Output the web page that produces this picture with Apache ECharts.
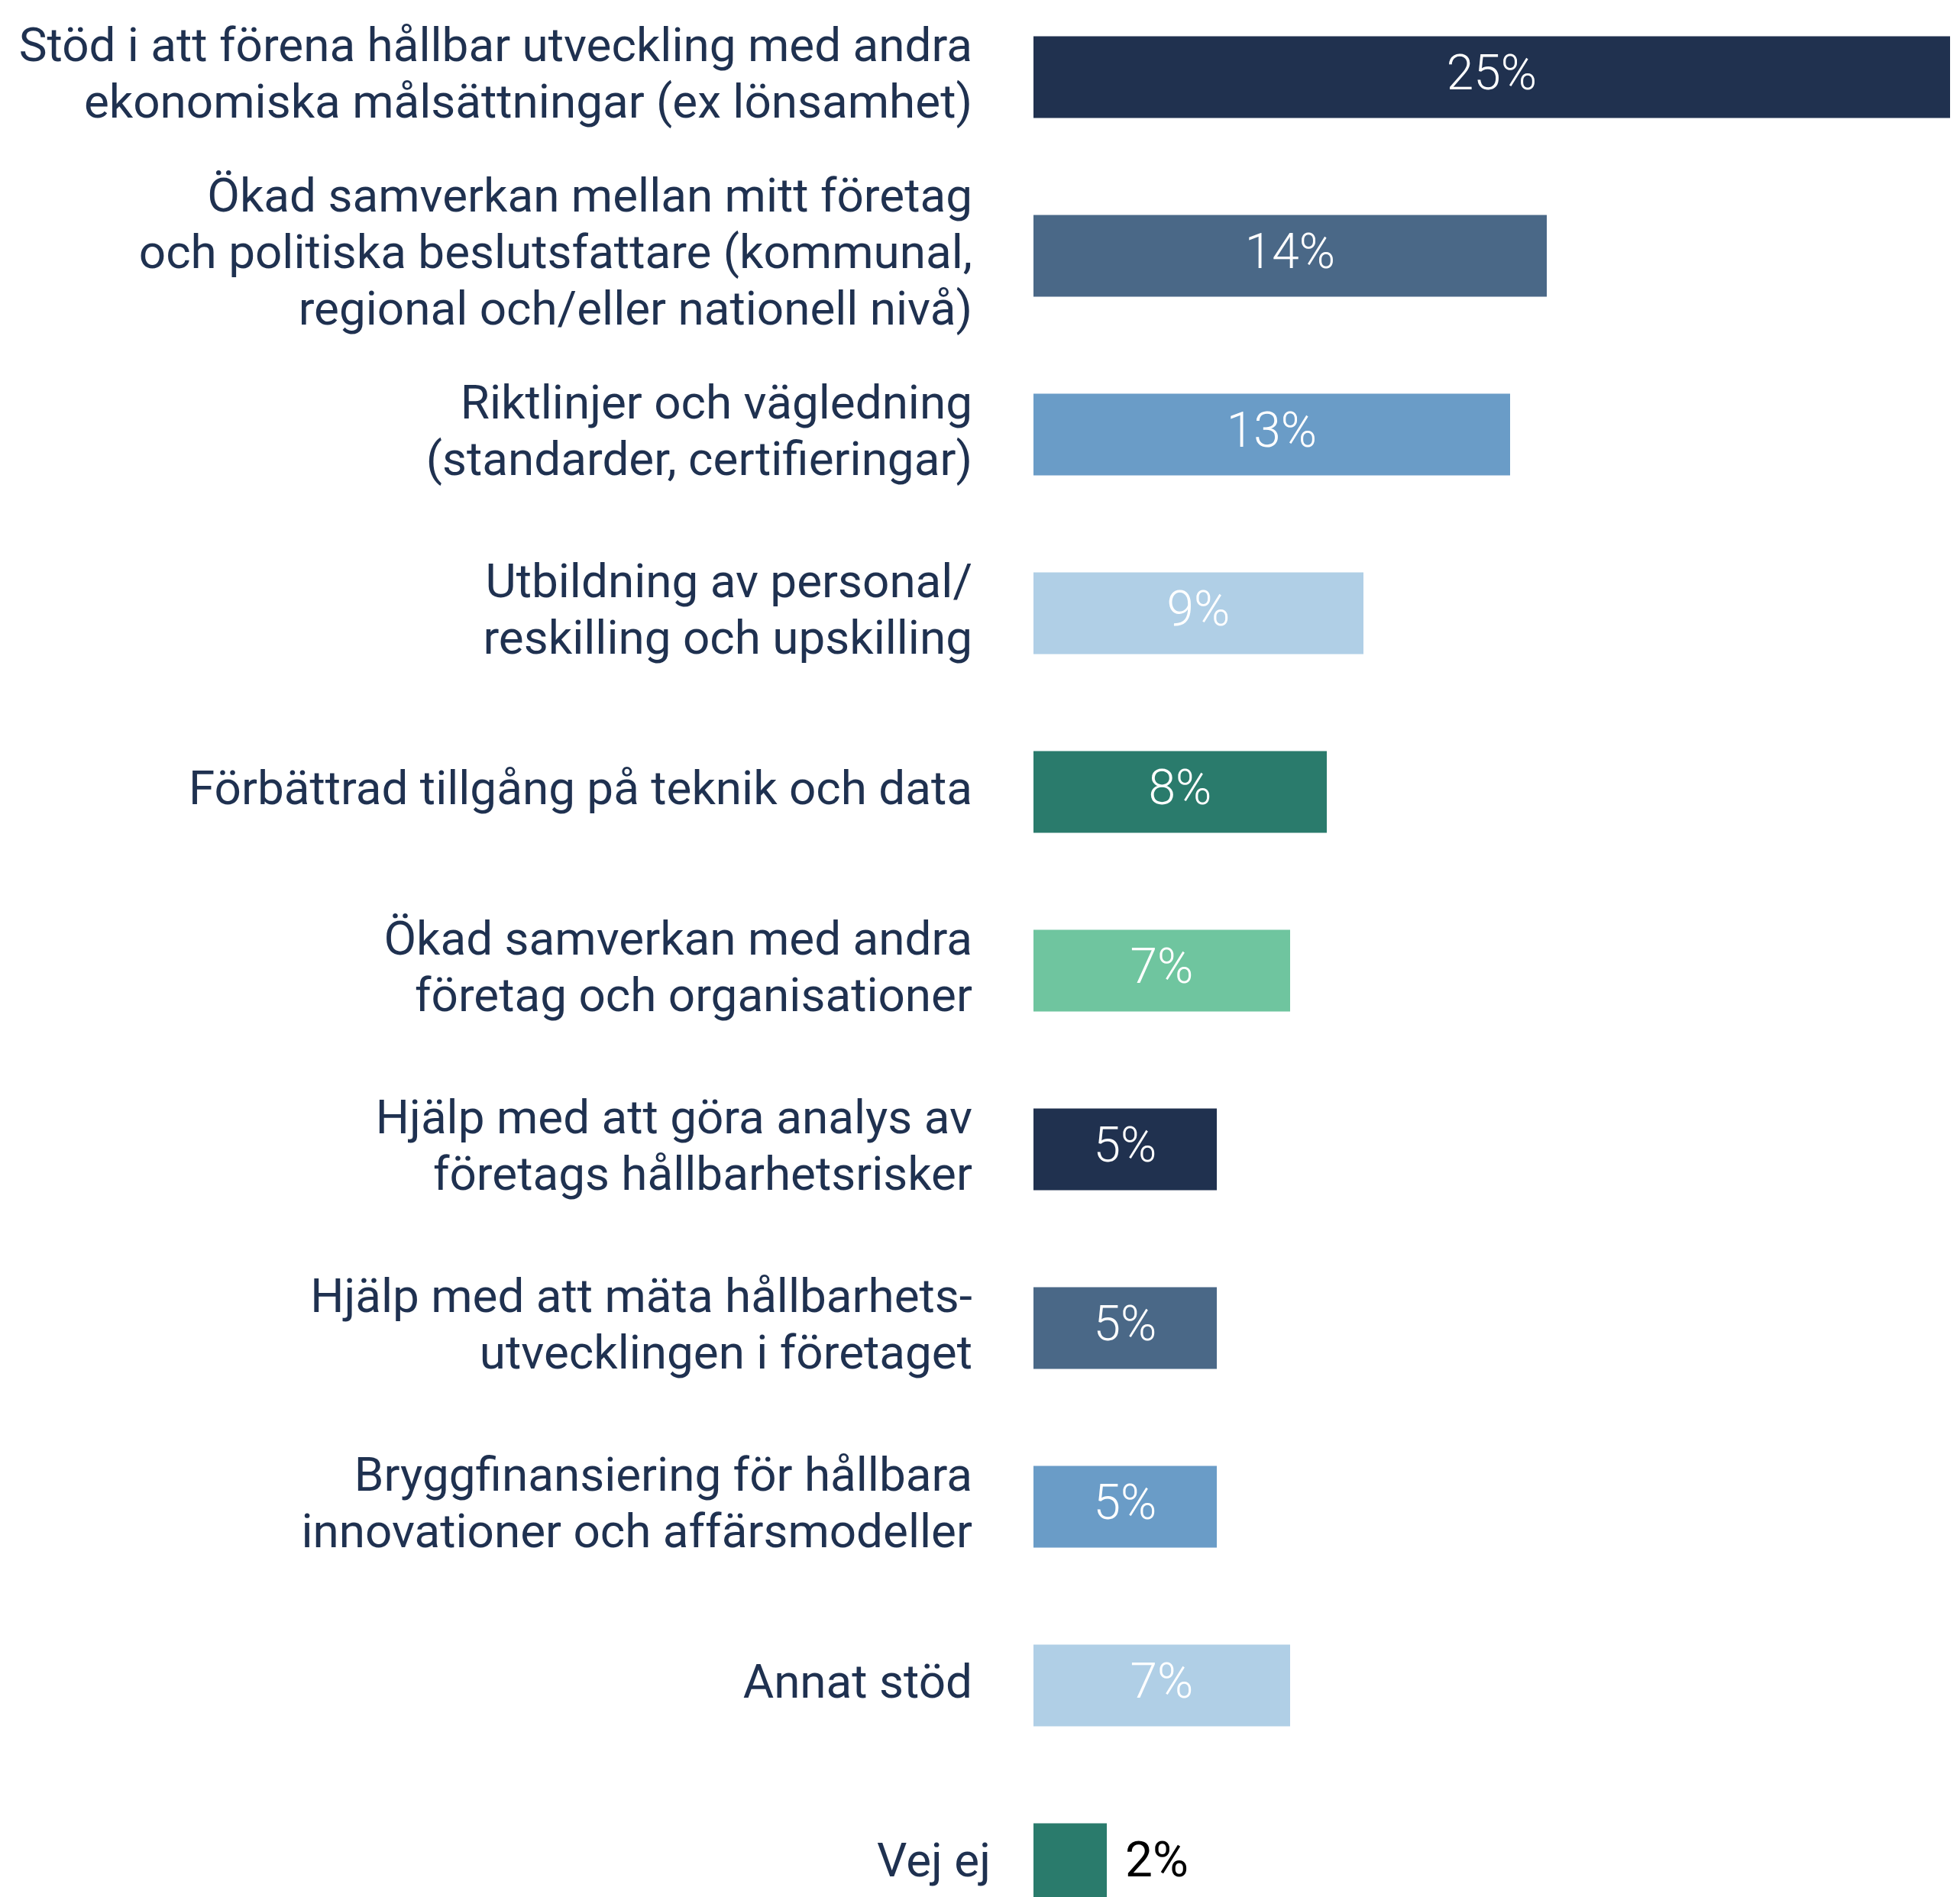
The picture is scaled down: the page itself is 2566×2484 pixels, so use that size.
<!DOCTYPE html>
<html>
<head>
<meta charset="utf-8">
<script src="https://cdn.jsdelivr.net/npm/echarts@6/dist/echarts.min.js"></script>
<style>
html,body{margin:0;padding:0;background:#fff;}
#chart{width:2566px;height:2484px;}
</style>
</head>
<body>
<div id="chart"></div>
<script>
const categories = [
  "Stöd i att förena hållbar utveckling med andra\nekonomiska målsättningar (ex lönsamhet)",
  "Ökad samverkan mellan mitt företag\noch politiska beslutsfattare (kommunal,\nregional och/eller nationell nivå)",
  "Riktlinjer och vägledning\n(standarder, certifieringar)",
  "Utbildning av personal/\nreskilling och upskilling",
  "Förbättrad tillgång på teknik och data",
  "Ökad samverkan med andra\nföretag och organisationer",
  "Hjälp med att göra analys av\nföretags hållbarhetsrisker",
  "Hjälp med att mäta hållbarhets-\nutvecklingen i företaget",
  "Bryggfinansiering för hållbara\ninnovationer och affärsmodeller",
  "Annat stöd",
  "Vej ej"
];
const values = [25, 14, 13, 9, 8, 7, 5, 5, 5, 7, 2];
const palette = ["#20314f", "#4a6887", "#6a9cc7", "#b0cfe6", "#2a7b6c", "#6fc59f"];

const chart = echarts.init(document.getElementById('chart'), null, {renderer: 'canvas'});
const seriesData = values.map(v => v < 3
  ? {value: v, label: {position: 'right', distance: 24, color: '#000000', fontWeight: 'normal'}}
  : {value: v});
const axisData = categories.map(c => c === 'Vej ej'
  ? {value: c, textStyle: {padding: [0, 0, 0, 0]}}
  : c);

chart.setOption({
  animation: false,
  backgroundColor: '#ffffff',
  color: palette,
  grid: {left: 1353, right: 13, top: -16, height: 2574, outerBoundsMode: 'none', containLabel: false},
  xAxis: {type: 'value', min: 0, max: 25, show: false},
  yAxis: {
    type: 'category',
    inverse: true,
    data: axisData,
    axisLine: {show: false},
    axisTick: {show: false},
    splitLine: {show: false},
    axisLabel: {
      fontFamily: 'Roboto',
      fontSize: 62,
      lineHeight: 74,
      color: '#1f3150',
      margin: 56,
      padding: [0, 24, 0, 0],
      align: 'right'
    }
  },
  series: [{
    type: 'bar',
    colorBy: 'data',
    barWidth: 107,
    data: seriesData,
    label: {
      show: true,
      position: 'inside',
      formatter: '{c}%',
      fontFamily: 'Roboto',
      fontWeight: 300,
      fontSize: 64,
      color: '#ffffff'
    }
  }]
});
</script>
</body>
</html>
